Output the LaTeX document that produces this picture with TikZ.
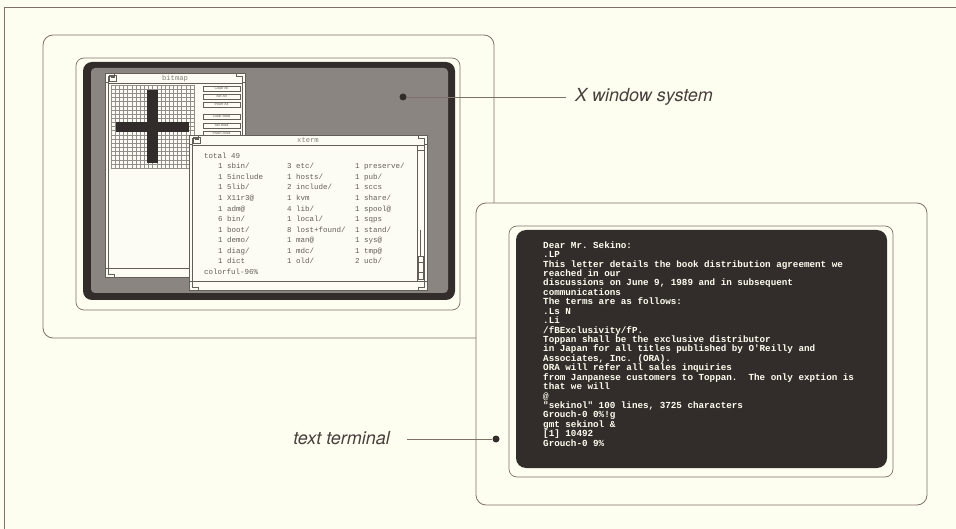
\documentclass[tikz,border=0pt]{standalone}
\usepackage{fontspec}
\setsansfont{TeX Gyre Heros}
\setmonofont{Liberation Mono}
\usetikzlibrary{positioning,calc}
\definecolor{paper}{RGB}{254,254,240}
\definecolor{rule}{RGB}{128,112,108}
\definecolor{screen}{RGB}{50,45,43}
\definecolor{desk}{RGB}{138,133,128}
\definecolor{winfill}{RGB}{252,252,244}
\definecolor{ink}{RGB}{100,94,90}
\definecolor{labelink}{RGB}{72,64,62}
\tikzstyle{frame}=[draw=rule, line width=0.7pt]
\tikzstyle{case}=[draw=rule, line width=0.8pt, fill=paper, rounded corners=10pt]
\tikzstyle{bezel}=[draw=rule, line width=0.7pt, rounded corners=8pt]
\tikzstyle{tube}=[fill=screen, rounded corners=9pt]
\tikzstyle{win}=[draw=ink, line width=0.5pt, fill=winfill]
\tikzstyle{thinline}=[draw=ink, line width=0.4pt]
\tikzstyle{gridline}=[draw=ink!70, line width=0.3pt]
\tikzstyle{leader}=[draw=rule, line width=0.7pt]
\tikzstyle{dot}=[circle, fill=screen, inner sep=0pt, minimum size=7pt]
\tikzstyle{callout}=[font=\sffamily\itshape\fontsize{18}{20}\selectfont, text=labelink, inner sep=0pt]
\tikzstyle{wintitle}=[font=\ttfamily\fontsize{7.2}{8}\selectfont, text=ink!80, inner sep=0pt]
\tikzstyle{xbutton}=[draw=ink, line width=0.4pt, fill=winfill, minimum width=37pt, minimum height=5.5pt, inner sep=0pt, font=\sffamily\fontsize{3.6}{4}\selectfont, text=ink]
\tikzstyle{xtext}=[font=\ttfamily\fontsize{7.5}{8}\selectfont, text=ink, inner sep=0pt, anchor=base west]
\tikzstyle{ttytext}=[font=\ttfamily\bfseries\fontsize{9.25}{9.43}\selectfont, text=white!94!yellow, inner sep=0pt, anchor=north west, align=left]
\newcommand{\drawwindow}[5]{
\pgfmathsetmacro{\xa}{#1}
\pgfmathsetmacro{\ya}{#2}
\pgfmathsetmacro{\xb}{#3}
\pgfmathsetmacro{\yb}{#4}
\filldraw[win] (\xa,\ya) rectangle (\xb,\yb);
\draw[thinline] (\xa+3,\ya+10) rectangle (\xb-3,\yb-9);
\node[wintitle] (#5) at ({(\xa+\xb)/2},\ya+5.5) {#5};
% menu box in the title bar
\draw[thinline] (\xa+4,\ya+2) rectangle (\xa+11,\ya+8);
\fill[ink] (\xa+5.5,\ya+4) rectangle (\xa+9.5,\ya+5.5);
    \foreach \cx/\cy/\sx/\sy in {\xa/\ya/1/1, \xb/\ya/-1/1, \xa/\yb/1/-1, \xb/\yb/-1/-1} {
      \draw[thinline] (\cx,\cy+\sy*9) -- (\cx+\sx*3,\cy+\sy*9) -- (\cx+\sx*3,\cy+\sy*3) -- (\cx+\sx*9,\cy+\sy*3) -- (\cx+\sx*9,\cy);
    }
}

\begin{document}
\begin{tikzpicture}[x=1pt,y=-1pt]
	\useasboundingbox (0,0) rectangle (956,529);
	\fill[paper] (0,0) rectangle (956,529);
	\draw[frame] (4,529) -- (4,7) -- (956,7);

	% workstation running X
	\begin{scope}
	\draw[case] (43,35) rectangle (494,338);
	\draw[bezel] (76,58) rectangle (460,310);
	\fill[tube] (83,62) rectangle (455,300);
	\fill[desk, rounded corners=4pt] (91,68) rectangle (448,293);

	\drawwindow{105}{73}{245}{277}{bitmap}
	\foreach \i in {0,...,20} {
	  \draw[gridline] (111+\i*4.15,85) -- (111+\i*4.15,168);
	  \draw[gridline] (111,85+\i*4.15) -- (194,85+\i*4.15);
	}
	\fill[screen] (147,90) rectangle (158,163);
	\fill[screen] (116,122) rectangle (189,132);
	\foreach \lbl/\yy [count=\k] in {Clear All/88.5, Set All/96.5, Invert All/104.5, Clear Area/116.5, Set Area/125.5, Invert Area/133.5} {
	  \node[xbutton] (btn\k) at (221.5,\yy) {\lbl};
	}

	\drawwindow{189}{135}{427}{290}{xterm}
	% scrollbar
	\draw[thinline] (417,145) -- (417,281);
	\draw[thinline] (417,150) -- (424,150);
	\draw[thinline] (420.5,230) -- (420.5,256);
	\draw[thinline] (418,256) rectangle (423,279);
	\draw[thinline] (418.5,262) -- (422.5,262) (418.5,272) -- (422.5,272);
	\node[xtext] (total) at (204,158.6) {total 49};
	\foreach \a/\b/\c [count=\k] in {{1 sbin/}/{3 etc/}/{1 preserve/},
	  {1 5include}/{1 hosts/}/{1 pub/}, {1 5lib/}/{2 include/}/{1 sccs},
	  {1 X11r3@}/{1 kvm}/{1 share/}, {1 adm@}/{4 lib/}/{1 spool@},
	  {6 bin/}/{1 local/}/{1 sqps}, {1 boot/}/{8 lost+found/}/{1 stand/},
	  {1 demo/}/{1 man@}/{1 sys@}, {1 diag/}/{1 mdc/}/{1 tmp@},
	  {1 dict}/{1 old/}/{2 ucb/}} {
	  \pgfmathsetmacro{\yy}{158.4+\k*10.53}
	  \node[xtext] (xa\k) at (218,\yy) {\a};
	  \node[xtext] (xb\k) at (287,\yy) {\b};
	  \node[xtext] (xc\k) at (355,\yy) {\c};
	}
	\node[xtext] (prompt) at (204,274.6) {colorful-96\%};

	\node[dot] (xdot) at (403,97) {};
	\node[callout, anchor=west] (xlabel) at (575,96.5) {X window system};
	\coordinate (xend) at (566,97);
	\draw[leader] (xdot) -- (xend);
	\end{scope}

	% plain terminal
	\begin{scope}
	\draw[case] (476,203) rectangle (927,505);
	\draw[bezel] (509,226) rectangle (893,477);
	\fill[tube, rounded corners=10pt] (516,230) rectangle (887,468);
	\node[ttytext] (tty) at (543,241.3) {Dear Mr. Sekino:\\
	.LP\\
	This letter details the book distribution agreement we\\
	reached in our\\
	discussions on June 9, 1989 and in subsequent\\
	communications\\
	The terms are as follows:\\
	.Ls N\\
	.Li\\
	/fBExclusivity/fP.\\
	Toppan shall be the exclusive distributor\\
	in Japan for all titles published by O'Reilly and\\
	Associates, Inc. (ORA).\\
	ORA will refer all sales inquiries\\
	from Janpanese customers to Toppan.\ \ The only exption is\\
	that we will\\
	@\\
	"sekinol" 100 lines, 3725 characters\\
	Grouch-0 0\%!g\\
	gmt sekinol \&\\
	{}[1] 10492\\
	Grouch-0 9\%};

	\node[dot] (tdot) at (496,439) {};
	\node[callout, anchor=east] (tlabel) at (390,438) {text terminal};
	\coordinate (tend) at (407,439);
	\draw[leader] (tend) -- (tdot);
	\end{scope}
\end{tikzpicture}
\end{document}
